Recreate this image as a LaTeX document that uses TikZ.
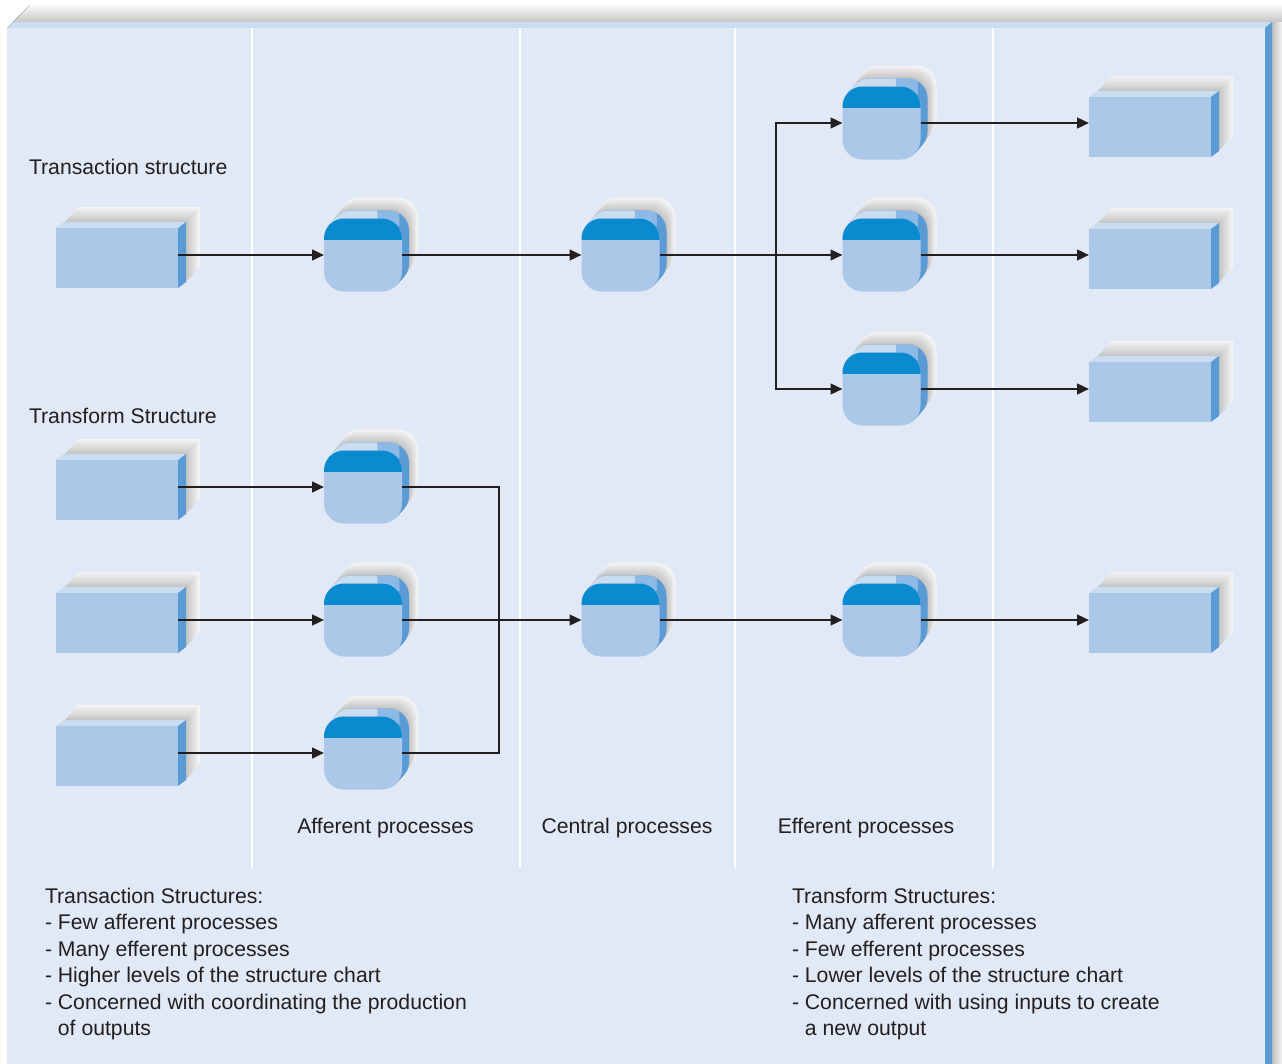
\documentclass[tikz,border=0pt]{standalone}
\usepackage{fontspec}
\setmainfont{Liberation Sans}
\usetikzlibrary{arrows.meta,calc}
\definecolor{panelbg}{HTML}{E0E9F5}
\definecolor{frontc}{HTML}{ABC8E9}
\definecolor{darktop}{HTML}{0A8BD0}
\definecolor{sideblue}{HTML}{5B9BD5}
\definecolor{midblue}{HTML}{8DB9E6}
\definecolor{stripL}{HTML}{CADCF0}
\definecolor{ink}{HTML}{231F20}
\tikzset{
  procnode/.style={minimum width=58.5pt, minimum height=54.75pt, inner sep=0pt, outer sep=0pt},
  boxnode/.style={minimum width=91.5pt, minimum height=45pt, inner sep=0pt, outer sep=0pt},
  conn/.style={draw=ink, line width=1.8pt},
  arr/.style={conn, -{Triangle[length=9pt,width=8pt]}},
  lbl/.style={text=ink, font=\fontsize{15.9}{19.9}\selectfont, inner sep=0pt, outer sep=0pt},
  divider/.style={draw=white, line width=1.3pt}
}
\newcommand\databox[3]{%
  \foreach \i in {0,...,14}{%
    \pgfmathsetmacro\tpar{1-\i/14}%
    \pgfmathsetmacro\ox{8+14*\tpar}%
    \pgfmathsetmacro\oy{6+15*\tpar}%
    \pgfmathsetmacro\grv{4+20*(1-\tpar)}%
    \fill[black!\grv] (#2+\ox,#3-30-\oy) rectangle (#2+122+\ox,#3+30-\oy);
  }
  \fill[stripL] (#2,#3-30) -- (#2+8,#3-36) -- (#2+130,#3-36) -- (#2+122,#3-30) -- cycle;
  \fill[sideblue] (#2+122,#3-30) -- (#2+130,#3-36) -- (#2+130,#3+24) -- (#2+122,#3+30) -- cycle;
  \fill[frontc] (#2,#3-30) rectangle (#2+122,#3+30);
  \node[boxnode] (#1) at (#2+61,#3) {};
}
\newcommand\procshape[3]{%
  \foreach \i in {0,...,13}{%
    \pgfmathsetmacro\tpar{1-\i/13}%
    \pgfmathsetmacro\ox{7+9*\tpar}%
    \pgfmathsetmacro\oy{8+13*\tpar}%
    \pgfmathsetmacro\grv{4+20*(1-\tpar)}%
    \fill[black!\grv, rounded corners=15pt] (#2-39+\ox,#3-36.5-\oy) rectangle (#2+39+\ox,#3+36.5-\oy);
  }
  \foreach \i in {0,...,7}{%
    \pgfmathsetmacro\tpar{1-\i/8}%
    \pgfmathsetmacro\ox{7*\tpar}%
    \pgfmathsetmacro\oy{8*\tpar}%
    \fill[sideblue, rounded corners=15pt] (#2-39+\ox,#3-36.5-\oy) rectangle (#2+39+\ox,#3+36.5-\oy);
  }
  \begin{scope}
    \clip (#2-60,#3-60) rectangle (#2+36,#3-30);
    \foreach \i in {0,...,7}{%
      \pgfmathsetmacro\tpar{1-\i/8}%
      \pgfmathsetmacro\ox{7*\tpar}%
      \pgfmathsetmacro\oy{8*\tpar}%
      \fill[midblue, rounded corners=15pt] (#2-39+\ox,#3-36.5-\oy) rectangle (#2+39+\ox,#3+36.5-\oy);
    }
  \end{scope}
  \begin{scope}
    \clip (#2-60,#3-60) rectangle (#2+14,#3-30);
    \foreach \i in {0,...,7}{%
      \pgfmathsetmacro\tpar{1-\i/8}%
      \pgfmathsetmacro\ox{7*\tpar}%
      \pgfmathsetmacro\oy{8*\tpar}%
      \fill[stripL, rounded corners=15pt] (#2-39+\ox,#3-36.5-\oy) rectangle (#2+39+\ox,#3+36.5-\oy);
    }
  \end{scope}
  \fill[frontc, rounded corners=15pt] (#2-39,#3-36.5) rectangle (#2+39,#3+36.5);
  \begin{scope}
    \clip[rounded corners=15pt] (#2-39,#3-36.5) rectangle (#2+39,#3+36.5);
    \fill[darktop] (#2-40,#3-37) rectangle (#2+40,#3-15.5);
  \end{scope}
  \node[procnode] (#1) at (#2,#3) {};
}
\begin{document}
\begin{tikzpicture}[x=0.75pt, y=-0.75pt]
  \useasboundingbox (0,0) rectangle (1282,1064);
  \fill[white] (0,0) rectangle (1282,1064);
  % frame
  \fill[top color=black!2, bottom color=black!30] (7,28) -- (30,5) -- (1282,5) -- (1282,28) -- cycle;
  \fill[left color=black!26, right color=black!4] (1272,22) rectangle (1282,1064);
  \fill[stripL] (7,28) -- (13,22) -- (1272,22) -- (1265,28) -- cycle;
  \fill[sideblue] (1265,28) -- (1272,22) -- (1272,1064) -- (1265,1064) -- cycle;
  \fill[panelbg] (7,28) rectangle (1265,1064);
  % dividers
  \foreach \dx in {252,520,735,993} \draw[divider] (\dx,28) -- (\dx,868);
  % transaction structure
  \databox{tb}{56}{258}
  \procshape{ta}{363}{255}
  \procshape{tc}{620.5}{255}
  \procshape{te1}{881.5}{123}
  \procshape{te2}{881.5}{255}
  \procshape{te3}{881.5}{389}
  \databox{ob1}{1089}{127}
  \databox{ob2}{1089}{259}
  \databox{ob3}{1089}{392}
  % transform structure
  \databox{ib1}{56}{490}
  \databox{ib2}{56}{623}
  \databox{ib3}{56}{756}
  \procshape{fa1}{363}{487}
  \procshape{fa2}{363}{620}
  \procshape{fa3}{363}{753}
  \procshape{fc}{620.5}{620}
  \procshape{fe}{881.5}{620}
  \databox{ob4}{1089}{623}
  % connectors: transaction
  \coordinate (j1) at (776,255);
  \draw[arr] (tb.east |- ta.west) -- (ta.west);
  \draw[arr] (ta.east) -- (tc.west);
  \draw[arr] (tc.east) -- (te2.west);
  \draw[arr] (j1) |- (te1.west);
  \draw[arr] (j1) |- (te3.west);
  \draw[arr] (te1.east) -- (te1.east -| ob1.west);
  \draw[arr] (te2.east) -- (te2.east -| ob2.west);
  \draw[arr] (te3.east) -- (te3.east -| ob3.west);
  % connectors: transform
  \coordinate (j2) at (499,620);
  \draw[arr] (ib1.east |- fa1.west) -- (fa1.west);
  \draw[arr] (ib2.east |- fa2.west) -- (fa2.west);
  \draw[arr] (ib3.east |- fa3.west) -- (fa3.west);
  \draw[conn] (fa1.east) -| (j2);
  \draw[conn] (fa3.east) -| (j2);
  \draw[arr] (fa2.east) -- (fc.west);
  \draw[arr] (fc.east) -- (fe.west);
  \draw[arr] (fe.east) -- (fe.east -| ob4.west);
  % labels
  \node[lbl, anchor=base west] (t1) at (29,174.5) {Transaction structure};
  \node[lbl, anchor=base west] (t2) at (29,423.5) {Transform Structure};
  \node[lbl, anchor=base] (l1) at (385.5,833) {Afferent processes};
  \node[lbl, anchor=base] (l2) at (627,833) {Central processes};
  \node[lbl, anchor=base] (l3) at (866,833) {Efferent processes};
  \node[lbl, anchor=base west, align=left] (n1) at (45,1035.7) {Transaction Structures:\\- Few afferent processes\\- Many efferent processes\\- Higher levels of the structure chart\\- Concerned with coordinating the production\\\hphantom{-\ }of outputs};
  \node[lbl, anchor=base west, align=left] (n2) at (792,1035.7) {Transform Structures:\\- Many afferent processes\\- Few efferent processes\\- Lower levels of the structure chart\\- Concerned with using inputs to create\\\hphantom{-\ }a new output};
\end{tikzpicture}
\end{document}
